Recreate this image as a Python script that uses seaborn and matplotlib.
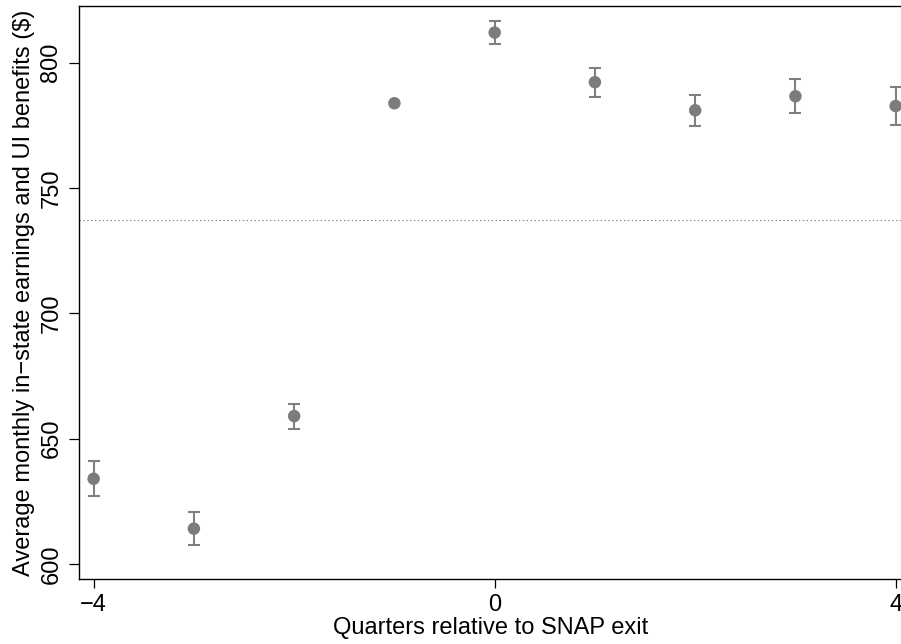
import numpy as np
import pandas as pd
import matplotlib
matplotlib.use("Agg")
import matplotlib.pyplot as plt
import seaborn as sns

# Quarters relative to SNAP exit and the estimated mean monthly income
quarters = [-4, -3, -2, -1, 0, 1, 2, 3, 4]
estimate = [634.0, 614.1, 659.0, 783.8, 812.0, 792.2, 781.0, 786.6, 782.7]
ci_low = [627.2, 607.6, 654.0, np.nan, 807.5, 786.4, 774.6, 779.8, 775.1]
ci_high = [641.0, 620.6, 663.8, np.nan, 816.6, 797.9, 787.2, 793.5, 790.3]
baseline_mean = 737.2

x_ticks = [-4, 0, 4]
y_ticks = [600, 650, 700, 750, 800]

df = pd.DataFrame({"quarter": quarters, "estimate": estimate,
                   "lo": ci_low, "hi": ci_high})

sns.set_style("ticks")
plt.rcParams["font.family"] = ["Liberation Sans", "DejaVu Sans"]

W, H = 901, 644
fig = plt.figure(figsize=(W / 100, H / 100), dpi=100)
ax = fig.add_axes([79 / W, (H - 579.3) / H, (903 - 79) / W, (579.3 - 6) / H])

grey = "#808080"

# reference line: pre-exit average
ax.axhline(baseline_mean, color=grey, lw=0.8, linestyle=(0, (1.2, 2.3)), zorder=1)

# confidence intervals
yerr = np.vstack([df["estimate"] - df["lo"], df["hi"] - df["estimate"]])
ax.errorbar(df["quarter"], df["estimate"], yerr=yerr, fmt="none",
            ecolor=grey, elinewidth=1.5, capsize=4.3, capthick=1.5, zorder=2)

# point estimates
sns.scatterplot(data=df, x="quarter", y="estimate", ax=ax, color="#7c7c7c",
                s=9 ** 2, edgecolor="none", linewidth=0, zorder=3, legend=False)

ax.set_xlim(-4.146, 4.073)
ax.set_ylim(593.9, 822.6)
ax.set_xticks(x_ticks)
ax.set_xticklabels([f"{t}".replace("-", "\u2212") for t in x_ticks])
ax.set_yticks(y_ticks)
ax.set_yticklabels([str(t) for t in y_ticks])
plt.setp(ax.get_yticklabels(), rotation=90, va="center")

ax.tick_params(axis="x", length=6.3, width=0.9, color="black", labelsize=17,
               pad=4, labelcolor="black")
ax.tick_params(axis="y", length=7, width=0.9, color="black", labelsize=17,
               pad=5, labelcolor="black")

for side in ["left", "bottom", "top", "right"]:
    ax.spines[side].set_visible(True)
    ax.spines[side].set_color("black")
    ax.spines[side].set_linewidth(1.0)

ax.set_xlabel("Quarters relative to SNAP exit", fontsize=17, labelpad=1, color="black")
ax.set_ylabel("Average monthly in\u2212state earnings and UI benefits ($)",
              fontsize=17, labelpad=4, color="black")

fig.savefig("out.png", dpi=100)
